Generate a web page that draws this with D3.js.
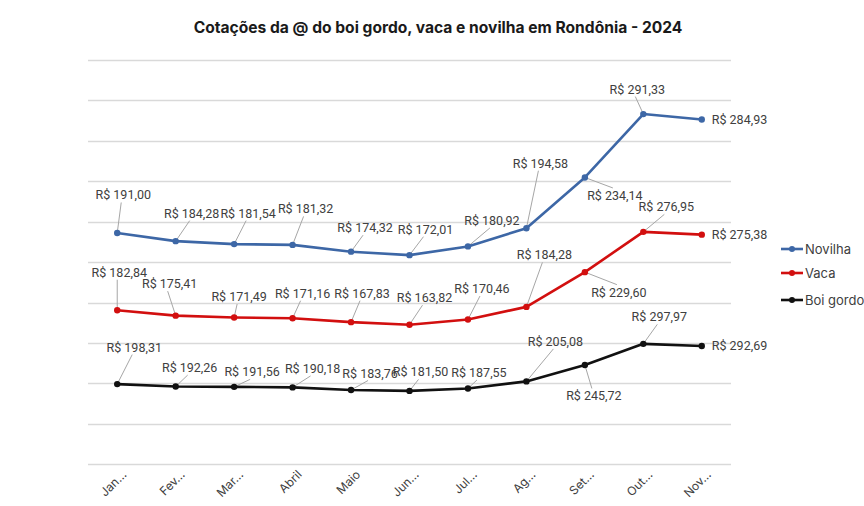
<!DOCTYPE html>
<html><head><meta charset="utf-8">
<script src="https://cdn.jsdelivr.net/npm/d3@7"></script>
<style>
html,body{margin:0;padding:0;background:#fff;}
svg{display:block;}
text{font-family:Roboto,"Noto Sans",sans-serif;}
</style></head>
<body>
<svg id="chart" width="864" height="506"></svg>
<script>
const months = ["Jan…","Fev…","Mar…","Abril","Maio","Jun…","Jul…","Ag…","Set…","Out…","Nov…"];
const boiGordo = [198.31,192.26,191.56,190.18,183.76,181.50,187.55,205.08,245.72,297.97,292.69];
const vaca = [182.84,175.41,171.49,171.16,167.83,163.82,170.46,184.28,229.60,276.95,275.38];
const novilha = [191.00,184.28,181.54,181.32,174.32,172.01,180.92,194.58,234.14,291.33,284.93];
const yTicks = [0,100,200,300,400,500,600,700,800,900,1000];
const seriesNames = ["Novilha","Vaca","Boi gordo"];

// label offsets (layout only): label center relative to point
const offNovilha = [[6,-38],[16,-28],[14,-31],[13,-36],[14,-24],[16,-26],[24,-26],[14,-65],[30,18],[-6,-25],[null]];
const offVaca = [[2,-38],[-6,-32],[5,-21],[10,-25],[11,-29],[15,-27],[14,-31],[18,-52],[34,20],[23,-25],[null]];
const offBoi = [[17,-37],[14,-19],[18,-15],[20,-19],[19,-17],[11,-19],[11,-16],[29,-40],[9,31],[16,-27],[null]];

const colors = {"Novilha":"#3d67a6","Vaca":"#d20f0f","Boi gordo":"#111111"};

const svg = d3.select("#chart");
const mLeft = 88, mRight = 731, mTop = 60, mBottom = 464.3;

const x = d3.scaleBand().domain(months).range([mLeft,mRight]).paddingInner(0).paddingOuter(0);
const y = d3.scaleLinear().domain([0,1000]).range([mBottom,mTop]);

// title
svg.append("text").attr("x",438).attr("y",33).attr("text-anchor","middle")
  .style("font-family","Inter, sans-serif")
  .attr("font-size",15.6).attr("font-weight",700).attr("fill","#1a1a1a")
  .text("Cotações da @ do boi gordo, vaca e novilha em Rondônia - 2024");

// gridlines
svg.append("g").selectAll("line").data(yTicks).join("line")
  .attr("x1",mLeft).attr("x2",mRight)
  .attr("y1",d=>Math.round(y(d))+0.5).attr("y2",d=>Math.round(y(d))+0.5)
  .attr("stroke","#d9d9d9").attr("stroke-width",1.3);

// x axis labels
const xAxis = d3.axisBottom(x).tickSize(0).tickPadding(0);
const gx = svg.append("g").attr("transform",`translate(0,${mBottom})`).call(xAxis);
gx.select(".domain").remove();
gx.selectAll("text")
  .style("font-family","Inter, sans-serif").attr("font-size",12).attr("fill","#404040")
  .attr("text-anchor","end").attr("dy",0).attr("y",0)
  .attr("transform","translate(10,11) rotate(-45)");

// stacked data
const stackInput = months.map((m,i)=>({m, "Boi gordo":boiGordo[i], "Vaca":vaca[i], "Novilha":novilha[i]}));
const stack = d3.stack().keys(["Boi gordo","Vaca","Novilha"]);
const stacked = stack(stackInput);
const raw = {"Boi gordo":boiGordo,"Vaca":vaca,"Novilha":novilha};
const offs = {"Boi gordo":offBoi,"Vaca":offVaca,"Novilha":offNovilha};

const cx = m => x(m)+x.bandwidth()/2;
const line = d3.line().x(d=>cx(d.data.m)).y(d=>y(d[1]));

const fmt = v => "R$ " + v.toFixed(2).replace(".",",");

const gLeaders = svg.append("g");
const gLines = svg.append("g");
const gLabels = svg.append("g");

stacked.forEach(s=>{
  const key = s.key, col = colors[key];
  gLines.append("path").datum(s).attr("d",line).attr("fill","none")
    .attr("stroke",col).attr("stroke-width",2.6).attr("stroke-linejoin","round");
  gLines.selectAll(null).data(s).join("circle")
    .attr("cx",d=>cx(d.data.m)).attr("cy",d=>y(d[1])).attr("r",3.2).attr("fill",col);

  s.forEach((d,i)=>{
    const px = cx(d.data.m), py = y(d[1]);
    const o = offs[key][i];
    const txt = fmt(raw[key][i]);
    if (o[0]===null){
      gLabels.append("text").attr("x",px+10).attr("y",py+4.5)
        .attr("font-size",12.5).attr("fill","#404040").text(txt);
      return;
    }
    const lx = px+o[0], ly = py+o[1];
    gLabels.append("text").attr("x",lx).attr("y",ly+4.5).attr("text-anchor","middle")
      .attr("font-size",12.5).attr("fill","#404040").text(txt);
    const h = 15;
    const ay = py > ly ? ly + h/2 : ly - h/2;
    const ax = lx - 2;
    if (Math.hypot(ax-px, ay-py) > 8){
      gLeaders.append("line").attr("x1",px).attr("y1",py).attr("x2",ax).attr("y2",ay)
        .attr("stroke","#a6a6a6").attr("stroke-width",1);
    }
  });
});

// legend
const legY = [249,273,300];
seriesNames.forEach((n,i)=>{
  const g = svg.append("g").attr("transform",`translate(781,${legY[i]})`);
  g.append("line").attr("x1",0).attr("x2",22).attr("y1",0).attr("y2",0).attr("stroke",colors[n]).attr("stroke-width",2.6);
  g.append("circle").attr("cx",11).attr("cy",0).attr("r",3).attr("fill",colors[n]);
  g.append("text").attr("x",24).attr("y",4.5).style("font-family","Inter, sans-serif")
    .attr("font-size",13).attr("fill","#404040").text(n);
});
</script>
</body></html>
